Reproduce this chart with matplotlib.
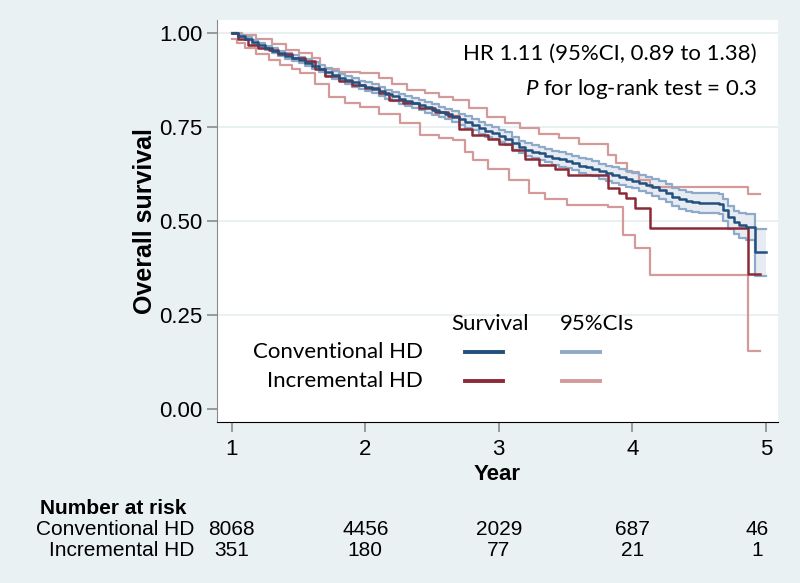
import matplotlib.pyplot as plt
import matplotlib.transforms as mtransforms
from matplotlib.lines import Line2D

# Conventional HD: KM estimate with 95% CI
conv_t = [1.00, 1.05, 1.10, 1.15, 1.20, 1.25, 1.30, 1.35, 1.40, 1.45,
          1.50, 1.55, 1.60, 1.65, 1.70, 1.75, 1.80, 1.85, 1.90, 1.95,
          2.00, 2.05, 2.10, 2.15, 2.20, 2.25, 2.30, 2.35, 2.40, 2.45,
          2.50, 2.55, 2.60, 2.65, 2.70, 2.75, 2.80, 2.85, 2.90, 2.95,
          3.00, 3.05, 3.10, 3.15, 3.20, 3.25, 3.30, 3.35, 3.40, 3.45,
          3.50, 3.55, 3.60, 3.65, 3.70, 3.75, 3.80, 3.85, 3.90, 3.95,
          4.00, 4.05, 4.10, 4.15, 4.20, 4.25, 4.30, 4.35, 4.40, 4.45,
          4.50, 4.55, 4.60, 4.65,
          4.68, 4.72, 4.76, 4.80, 4.85, 4.92, 5.00]
conv_s = [1.000, 0.993, 0.985, 0.977, 0.968, 0.961, 0.954, 0.947, 0.940, 0.934,
          0.929, 0.922, 0.914, 0.906, 0.897, 0.889, 0.882, 0.875, 0.869, 0.863,
          0.858, 0.852, 0.845, 0.838, 0.832, 0.826, 0.820, 0.815, 0.810, 0.803,
          0.797, 0.791, 0.785, 0.778, 0.771, 0.764, 0.757, 0.749, 0.741, 0.734,
          0.727, 0.719, 0.707, 0.697, 0.690, 0.685, 0.680, 0.674, 0.668, 0.664,
          0.660, 0.654, 0.648, 0.644, 0.640, 0.633, 0.627, 0.622, 0.618, 0.613,
          0.608, 0.602, 0.596, 0.590, 0.583, 0.574, 0.565, 0.558, 0.553, 0.550,
          0.548, 0.548, 0.548, 0.546,
          0.530, 0.510, 0.497, 0.489, 0.484, 0.418, 0.418]
conv_hi = [1.000, 0.996, 0.989, 0.982, 0.974, 0.967, 0.961, 0.954, 0.948, 0.942,
           0.938, 0.931, 0.923, 0.916, 0.907, 0.899, 0.892, 0.886, 0.880, 0.874,
           0.869, 0.864, 0.857, 0.850, 0.844, 0.839, 0.833, 0.828, 0.823, 0.817,
           0.811, 0.805, 0.799, 0.793, 0.786, 0.779, 0.772, 0.765, 0.757, 0.750,
           0.743, 0.736, 0.724, 0.714, 0.707, 0.703, 0.698, 0.692, 0.686, 0.683,
           0.679, 0.673, 0.667, 0.664, 0.660, 0.653, 0.647, 0.643, 0.639, 0.634,
           0.629, 0.624, 0.618, 0.613, 0.606, 0.598, 0.589, 0.583, 0.578, 0.576,
           0.574, 0.574, 0.575, 0.573,
           0.559, 0.540, 0.528, 0.522, 0.518, 0.480, 0.480]
conv_lo = [1.000, 0.990, 0.981, 0.972, 0.962, 0.955, 0.947, 0.940, 0.932, 0.926,
           0.920, 0.913, 0.905, 0.896, 0.887, 0.879, 0.872, 0.864, 0.858, 0.852,
           0.847, 0.840, 0.833, 0.826, 0.820, 0.813, 0.807, 0.802, 0.797, 0.789,
           0.783, 0.777, 0.771, 0.763, 0.756, 0.749, 0.742, 0.733, 0.725, 0.718,
           0.711, 0.702, 0.690, 0.680, 0.673, 0.667, 0.662, 0.656, 0.650, 0.645,
           0.641, 0.635, 0.629, 0.624, 0.620, 0.613, 0.607, 0.601, 0.597, 0.592,
           0.587, 0.580, 0.574, 0.567, 0.560, 0.550, 0.541, 0.533, 0.528, 0.524,
           0.522, 0.522, 0.521, 0.519,
           0.501, 0.480, 0.466, 0.456, 0.450, 0.354, 0.354]

# Incremental HD
inc_t = [1.00, 1.05, 1.12, 1.20, 1.28, 1.35, 1.45, 1.55, 1.62, 1.70, 1.80, 1.90, 2.00,
         2.10, 2.18, 2.28, 2.40, 2.52, 2.62, 2.70, 2.80, 2.92, 3.00, 3.10, 3.20, 3.30,
         3.42, 3.52, 3.82, 3.90, 3.95, 4.02, 4.13, 4.87, 4.955]
inc_s = [1.000, 0.985, 0.970, 0.962, 0.955, 0.944, 0.935, 0.925, 0.905, 0.885, 0.872,
         0.862, 0.855, 0.840, 0.822, 0.815, 0.800, 0.790, 0.780, 0.745, 0.730, 0.718,
         0.705, 0.690, 0.665, 0.650, 0.640, 0.622, 0.588, 0.575, 0.561, 0.535, 0.481,
         0.359, 0.359]
inc_hi_t = [1.00, 1.08, 1.18, 1.30, 1.41, 1.50, 1.60, 1.66, 1.80, 1.96, 2.10, 2.20, 2.31,
            2.45, 2.55, 2.66, 2.78, 2.91, 3.05, 3.16, 3.30, 3.45, 3.60, 3.82, 3.88, 3.96,
            4.05, 4.13, 4.87, 4.955]
inc_hi = [1.000, 0.995, 0.985, 0.972, 0.955, 0.947, 0.935, 0.905, 0.898, 0.894, 0.880,
          0.866, 0.848, 0.840, 0.830, 0.822, 0.800, 0.777, 0.760, 0.747, 0.732, 0.722,
          0.705, 0.676, 0.655, 0.630, 0.610, 0.590, 0.572, 0.572]
inc_lo_t = [1.00, 1.04, 1.10, 1.18, 1.28, 1.36, 1.45, 1.51, 1.62, 1.73, 1.85, 1.96, 2.10,
            2.26, 2.41, 2.55, 2.66, 2.75, 2.81, 2.92, 3.08, 3.23, 3.35, 3.51, 3.82, 3.93,
            4.02, 4.13, 4.87, 4.955]
inc_lo = [0.985, 0.975, 0.960, 0.945, 0.928, 0.915, 0.905, 0.894, 0.865, 0.830, 0.815,
          0.803, 0.785, 0.760, 0.729, 0.722, 0.715, 0.685, 0.662, 0.640, 0.609, 0.574,
          0.558, 0.543, 0.537, 0.463, 0.428, 0.356, 0.154, 0.154]

years = [1, 2, 3, 4, 5]
risk_x = [1, 2, 3, 4, 4.935]
risk_conv = [8068, 4456, 2029, 687, 46]
risk_inc = [351, 180, 77, 21, 1]
yticks = [0.00, 0.25, 0.50, 0.75, 1.00]

bg = "#eaf1f3"
blue, blue_ci = "#24507f", "#8faac8"
red, red_ci = "#8c2a36", "#d49a9a"
legend_font = "Lato"

plt.rcParams["mathtext.fontset"] = "custom"
plt.rcParams["mathtext.it"] = "Lato:italic"
plt.rcParams["mathtext.rm"] = "Lato"

fig = plt.figure(figsize=(8, 5.83), dpi=100, facecolor=bg)
ax = fig.add_axes([0.271, 0.276, 0.70125, 0.6895])
ax.set_facecolor("white")

for yv in yticks[1:]:
    ax.axhline(yv, color="#e4edf0", lw=1.2, zorder=0)

ax.fill_between(conv_t, conv_lo, conv_hi, step="post", color="#e6ecf1", lw=0, zorder=1)
ax.step(inc_hi_t, inc_hi, where="post", color=red_ci, lw=1.6, zorder=2)
ax.step(inc_lo_t, inc_lo, where="post", color=red_ci, lw=1.6, zorder=2)
ax.step(conv_t, conv_hi, where="post", color=blue_ci, lw=1.6, zorder=3)
ax.step(conv_t, conv_lo, where="post", color=blue_ci, lw=1.6, zorder=3)
ax.step(inc_t, inc_s, where="post", color=red, lw=1.8, zorder=4)
ax.step(conv_t, conv_s, where="post", color=blue, lw=1.8, zorder=5)

ax.set_xlim(0.888, 5.09)
ax.set_ylim(-0.035, 1.035)
ax.set_xticks(years)
ax.set_yticks(yticks)
ax.set_yticklabels(["%.2f" % v for v in yticks])
for s in ["top", "right"]:
    ax.spines[s].set_visible(False)
ax.spines["left"].set_color("#8a8a8a")
ax.spines["bottom"].set_color("black")
ax.tick_params(axis="both", colors="#8a8a8a", labelcolor="black", length=7, width=1.2,
               labelsize=16)
ax.tick_params(axis="x", pad=5)
for lab in ax.get_xticklabels() + ax.get_yticklabels():
    lab.set_family("Liberation Sans")

ax.set_ylabel("Overall survival", fontsize=18, fontweight="bold", family="Liberation Sans",
              labelpad=1)
ax.set_xlabel("Year", fontsize=16, fontweight="bold", family="Liberation Sans", labelpad=3)

# annotation
ax.text(0.963, 0.915, "HR 1.11 (95%CI, 0.89 to 1.38)", transform=ax.transAxes,
        ha="right", va="center", fontsize=16, family=legend_font)
ax.text(0.963, 0.828, r"$\it{P}$ for log-rank test = 0.3", transform=ax.transAxes,
        ha="right", va="center", fontsize=16, family=legend_font)

# legend
ax.text(0.487, 0.244, "Survival", transform=ax.transAxes, ha="center", va="center",
        fontsize=16, family=legend_font)
ax.text(0.677, 0.244, "95%CIs", transform=ax.transAxes, ha="center", va="center",
        fontsize=16, family=legend_font)
ax.text(0.367, 0.174, "Conventional HD", transform=ax.transAxes, ha="right", va="center",
        fontsize=16, family=legend_font)
ax.text(0.367, 0.102, "Incremental HD", transform=ax.transAxes, ha="right", va="center",
        fontsize=16, family=legend_font)
for yl, c1, c2 in [(0.174, blue, blue_ci), (0.102, red, red_ci)]:
    ax.add_line(Line2D([0.442, 0.510], [yl, yl], color=c1, lw=2.8, transform=ax.transAxes))
    ax.add_line(Line2D([0.615, 0.683], [yl, yl], color=c2, lw=2.8, transform=ax.transAxes))

# number at risk table
tab_font = "Liberation Sans"
fig.text(0.05, 0.1286, "Number at risk", ha="left", va="center", fontsize=15,
         fontweight="bold", family=tab_font)
fig.text(0.2425, 0.0926, "Conventional HD", ha="right", va="center", fontsize=15,
         family=tab_font)
fig.text(0.2425, 0.0549, "Incremental HD", ha="right", va="center", fontsize=15,
         family=tab_font)
trans = mtransforms.blended_transform_factory(ax.transData, fig.transFigure)
for xv, a, b in zip(risk_x, risk_conv, risk_inc):
    fig.text(xv, 0.0926, str(a), transform=trans, ha="center", va="center", fontsize=15,
             family=tab_font)
    fig.text(xv, 0.0549, str(b), transform=trans, ha="center", va="center", fontsize=15,
             family=tab_font)

fig.savefig("out.png", dpi=100, facecolor=bg)
